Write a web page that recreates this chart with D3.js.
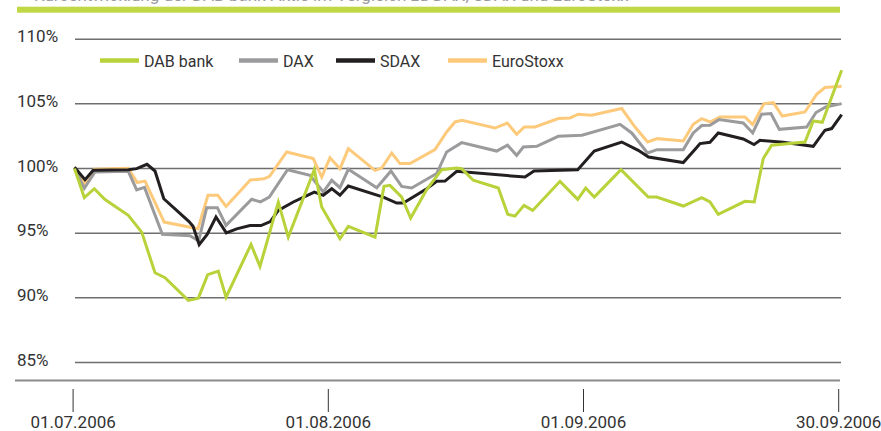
<!DOCTYPE html>
<html>
<head>
<meta charset="utf-8">
<script src="https://cdn.jsdelivr.net/npm/d3@7"></script>
<style>
  html, body { margin: 0; padding: 0; background: #fff; }
  svg { display: block; font-family: Roboto, "Open Sans", sans-serif; }
</style>
</head>
<body>
<div id="chart"></div>
<script>
// x = position on the Jul..Sep axis (0 = 01.07.2006, 90 = 30.09.2006), v = % of start value
const dabBank = [
  [0, 100], [1.15, 97.75], [2.32, 98.44], [3.58, 97.6], [6.31, 96.38], [7.88, 95.08],
  [9.44, 91.94], [10.61, 91.56], [13.34, 89.8], [14.52, 89.98], [15.62, 91.79], [16.86, 92.07],
  [17.77, 90.05], [20.7, 94.13], [21.75, 92.43], [23.9, 97.4], [25.07, 94.7], [28.12, 99.91],
  [28.99, 97.02], [31.13, 94.57], [32.11, 95.53], [35.24, 94.7], [36.29, 98.62], [37.0, 98.7],
  [38.37, 97.79], [39.42, 96.17], [41.3, 98.37], [43.06, 99.91], [44.82, 100.04], [45.4, 99.99],
  [46.76, 99.09], [49.7, 98.49], [50.8, 96.46], [51.65, 96.32], [52.71, 97.15], [53.73, 96.76],
  [56.93, 99.01], [59.01, 97.62], [59.94, 98.49], [60.95, 97.79], [64.08, 99.91], [67.28, 97.79],
  [68.27, 97.79], [71.39, 97.1], [73.55, 97.75], [74.52, 97.41], [75.49, 96.46], [78.62, 97.46],
  [79.71, 97.41], [80.77, 100.77], [81.75, 101.8], [85.66, 102.05], [86.63, 103.68], [87.69, 103.58],
  [89.96, 107.6]
];

const dax = [
  [0, 100], [1.15, 98.47], [2.4, 99.74], [6.31, 99.78], [7.29, 98.35], [8.21, 98.54],
  [10.3, 94.91], [13.54, 94.81], [14.56, 94.4], [15.5, 96.97], [16.75, 96.97], [17.77, 95.6],
  [20.78, 97.62], [21.81, 97.42], [22.84, 97.79], [24.98, 99.91], [27.62, 99.47], [29.17, 98.18],
  [30.16, 99.09], [31.13, 98.52], [32.11, 99.94], [35.44, 98.52], [37.11, 99.81], [38.37, 98.62],
  [39.54, 98.49], [42.47, 99.61], [43.64, 101.28], [45.4, 102.0], [49.51, 101.35], [50.77, 101.8],
  [51.85, 101.02], [52.63, 101.66], [54.2, 101.72], [56.73, 102.49], [59.51, 102.57], [63.97, 103.42],
  [65.34, 102.75], [67.19, 101.2], [68.31, 101.46], [71.39, 101.46], [72.56, 102.75], [73.55, 103.32],
  [74.52, 103.34], [75.57, 103.78], [78.42, 103.52], [79.53, 102.75], [80.58, 104.2], [81.67, 104.25],
  [82.65, 103.03], [85.86, 103.21], [86.95, 104.33], [88.1, 104.76], [89.96, 105.02]
];

const sdax = [
  [0, 100.1], [1.23, 99.13], [2.2, 99.86], [6.31, 99.91], [7.29, 99.99], [8.5, 100.33],
  [9.44, 99.81], [10.47, 97.66], [13.43, 95.9], [13.9, 95.53], [14.62, 94.12], [15.56, 94.91],
  [16.59, 96.25], [17.8, 95.02], [19.02, 95.33], [20.58, 95.59], [21.87, 95.59], [22.96, 95.9],
  [23.9, 96.76], [25.66, 97.41], [28.12, 98.18], [29.17, 97.93], [30.16, 98.44], [31.13, 97.93],
  [32.11, 98.65], [36.21, 97.79], [37.78, 97.33], [38.56, 97.33], [41.3, 98.44], [42.47, 99.01],
  [43.45, 99.03], [44.82, 99.78], [52.83, 99.34], [53.88, 99.81], [59.01, 99.91], [60.95, 101.35],
  [64.17, 102.05], [66.11, 101.41], [67.31, 100.89], [71.39, 100.46], [72.96, 101.62], [73.35, 101.93],
  [74.52, 102.03], [75.49, 102.75], [78.42, 102.28], [79.68, 101.85], [80.38, 102.18], [83.11, 102.03],
  [86.63, 101.72], [88.0, 102.96], [88.79, 103.09], [89.96, 104.17]
];

const euroStoxx = [
  [0, 100.1], [1.14, 98.85], [2.31, 99.95], [6.31, 100.02], [7.35, 98.92], [8.27, 99.03],
  [10.52, 95.86], [14.48, 95.35], [15.65, 97.93], [16.8, 97.93], [17.77, 97.07], [20.62, 99.11],
  [22.22, 99.2], [22.87, 99.4], [24.88, 101.28], [28.0, 100.77], [28.99, 99.34], [29.96, 100.84],
  [31.13, 99.99], [32.11, 101.54], [35.24, 99.86], [36.02, 100.04], [37.2, 101.2], [38.17, 100.38],
  [39.34, 100.38], [42.27, 101.46], [43.64, 102.83], [44.62, 103.6], [45.44, 103.73], [49.31, 103.13],
  [50.75, 103.52], [51.85, 102.65], [52.74, 103.21], [54.0, 103.21], [56.73, 103.86], [58.1, 103.91],
  [59.08, 104.2], [60.65, 104.12], [64.17, 104.64], [65.73, 103.21], [67.21, 102.05], [68.34, 102.31],
  [71.39, 102.13], [72.56, 103.42], [73.55, 103.86], [74.52, 103.6], [75.69, 103.99], [78.62, 103.99],
  [79.53, 103.4], [80.86, 105.02], [81.94, 105.1], [83.0, 104.06], [85.66, 104.37], [87.03, 105.74],
  [88.0, 106.26], [89.96, 106.36]
];

const seriesNames = ['DAB bank', 'DAX', 'SDAX', 'EuroStoxx'];
const seriesColors = ['#b8d23a', '#9b9b9d', '#231f20', '#fdca7c'];
const yTicks = [85, 90, 95, 100, 105, 110];
const xTickLabels = ['01.07.2006', '01.08.2006', '01.09.2006', '30.09.2006'];
const titleText = 'Kursentwicklung der DAB bank-Aktie im Vergleich zu DAX, SDAX und EuroStoxx';

const width = 881, height = 431;

const svg = d3.select('#chart').append('svg')
  .attr('width', width)
  .attr('height', height);

// Scales
const x = d3.scaleLinear().domain([0, 90]).range([74.5, 842]);
const y = d3.scaleLinear().domain([85, 110]).range([362.5, 39.2]);
const xTickScale = d3.scalePoint().domain(xTickLabels).range([72.6, 838.2]);

// Heading is cut off at the top edge in the original, only its lower rim shows
svg.append('text')
  .attr('x', 34)
  .attr('y', 0.5)
  .style('fill', '#9a9a9a')
  .style('font-size', '17px')
  .text(titleText);

svg.append('rect')
  .attr('x', 17)
  .attr('y', 6.7)
  .attr('width', 823)
  .attr('height', 6)
  .attr('fill', '#bfd843');

// Grid lines
svg.append('g')
  .selectAll('line')
  .data(yTicks)
  .join('line')
  .attr('x1', 75)
  .attr('x2', 841)
  .attr('y1', d => y(d))
  .attr('y2', d => y(d))
  .attr('stroke', '#6e6e6e')
  .attr('stroke-width', 1.5);

// Y labels (left aligned)
svg.append('g')
  .selectAll('text')
  .data(yTicks)
  .join('text')
  .attr('x', 17)
  .attr('y', d => y(d) + 3)
  .style('fill', '#333')
  .style('font-size', '17px')
  .text(d => d + '%');

// Bottom axis line
svg.append('line')
  .attr('x1', 15)
  .attr('x2', 840)
  .attr('y1', 380.5)
  .attr('y2', 380.5)
  .attr('stroke', '#8a8a8a')
  .attr('stroke-width', 2);

// X ticks + labels
const xAxis = svg.append('g')
  .attr('transform', 'translate(0,389)')
  .call(d3.axisBottom(xTickScale).tickSize(23).tickPadding(4));

xAxis.select('.domain').remove();
xAxis.selectAll('line').attr('stroke', '#333').attr('stroke-width', 1);
xAxis.selectAll('text')
  .style('fill', '#333')
  .style('font-size', '17px')
  .style('font-family', 'Roboto, "Open Sans", sans-serif');

// Lines
const line = d3.line()
  .x(d => x(d[0]))
  .y(d => y(d[1]));

const allSeries = [dabBank, dax, sdax, euroStoxx];
// draw order: EuroStoxx, DAX, SDAX, DAB bank on top
[3, 1, 2, 0].forEach(i => {
  svg.append('path')
    .datum(allSeries[i])
    .attr('fill', 'none')
    .attr('stroke', seriesColors[i])
    .attr('stroke-width', 3)
    .attr('stroke-linejoin', 'miter')
    .attr('d', line);
});

// Legend
const legendX = [100, 239, 336, 448];
seriesNames.forEach((name, i) => {
  const item = svg.append('g')
    .attr('transform', `translate(${legendX[i]}, 60.5)`);

  item.append('line')
    .attr('x1', 0)
    .attr('x2', 39)
    .attr('y1', 0)
    .attr('y2', 0)
    .attr('stroke', seriesColors[i])
    .attr('stroke-width', 4.5);

  item.append('text')
    .attr('x', 44)
    .attr('y', 6)
    .style('fill', '#333')
    .style('font-size', '16px')
    .text(name);
});
</script>
</body>
</html>
